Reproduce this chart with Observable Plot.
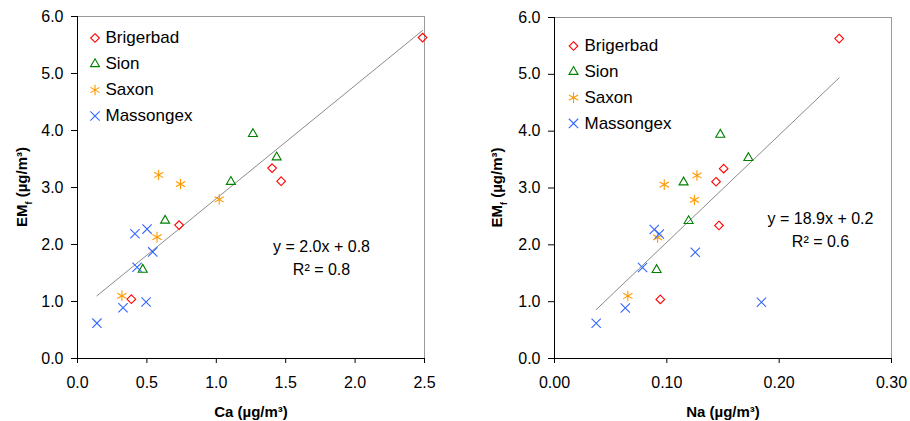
<!DOCTYPE html>
<html><head><meta charset="utf-8">
<script src="https://cdn.jsdelivr.net/npm/d3@7"></script>
<script src="https://cdn.jsdelivr.net/npm/@observablehq/plot@0.6"></script>
<style>
body{margin:0;background:#fff;}
#wrap{display:flex;width:910px;height:421px;}
#wrap svg{font-family:"Liberation Sans",Arial,sans-serif;display:block;}
</style></head><body><div id="wrap"></div>
<script>
// ---- data ----
const sites = ["Brigerbad","Sion","Saxon","Massongex"];
const emBrigerbad = [5.63, 3.34, 3.11, 2.34, 1.04];
const caBrigerbad = [2.486, 1.402, 1.467, 0.732, 0.388];
const naBrigerbad = [0.2534, 0.1506, 0.1438, 0.1464, 0.0942];
const emSion = [3.94, 3.53, 3.10, 2.42, 1.56];
const caSion = [1.264, 1.435, 1.105, 0.631, 0.470];
const naSion = [0.1476, 0.1726, 0.1149, 0.1194, 0.0909];
const emSaxon = [3.22, 3.06, 2.79, 2.13, 1.10];
const caSaxon = [0.585, 0.742, 1.021, 0.573, 0.320];
const naSaxon = [0.1268, 0.0977, 0.1245, 0.0918, 0.0653];
const emMassongex = [0.62, 0.89, 0.99, 1.60, 1.87, 2.19, 2.27];
const caMassongex = [0.140, 0.328, 0.494, 0.429, 0.542, 0.414, 0.501];
const naMassongex = [0.0371, 0.0630, 0.1842, 0.0784, 0.1253, 0.0933, 0.0888];
const yTicks = [0, 1, 2, 3, 4, 5, 6];
const caTicks = [0, 0.5, 1, 1.5, 2, 2.5];
const naTicks = [0, 0.1, 0.2, 0.3];
const eqCa = ["y = 2.0x + 0.8", "R² = 0.8"];
const eqNa = ["y = 18.9x + 0.2", "R² = 0.6"];

// ---- styles ----
const siteColors = ["#ff0000", "#008000", "#ff9900", "#3366ff"];
const siteSymbols = ["diamond2", "triangle2", "asterisk", "times"];
const siteR = [3.9, 4.3, 5, 4.3];

const siteData = {
  Brigerbad: [emBrigerbad, caBrigerbad, naBrigerbad],
  Sion: [emSion, caSion, naSion],
  Saxon: [emSaxon, caSaxon, naSaxon],
  Massongex: [emMassongex, caMassongex, naMassongex]
};
const rows = [];
for (const s of sites) {
  const [em, ca, na] = siteData[s];
  em.forEach((v, j) => rows.push({site: s, em: v, ca: ca[j], na: na[j]}));
}

function scatter(o) {
  const W = 455, H = 421;
  const marks = [
    Plot.ruleY([6], {stroke: "#9a9a9a"}),
    Plot.ruleX([o.xDomain[1]], {stroke: "#9a9a9a"}),
    Plot.axisY({ticks: yTicks, tickFormat: d3.format(".1f"), tickSize: 6, tickPadding: 8, fontSize: 16, label: null}),
    Plot.axisX({ticks: o.xTicks, tickFormat: d3.format(o.xFormat), tickSize: 5, tickPadding: 13, fontSize: 16, label: null}),
    Plot.ruleX([o.xDomain[0]], {stroke: "#000"}),
    Plot.ruleY([0], {stroke: "#000"}),
    Plot.linearRegressionY(rows, {x: o.xKey, y: "em", stroke: "#8a8a8a", strokeWidth: 1, ci: 0}),
  ];
  sites.forEach((s, i) => {
    marks.push(Plot.dot(rows.filter(d => d.site === s), {
      x: o.xKey, y: "em", symbol: siteSymbols[i], stroke: siteColors[i], r: siteR[i], strokeWidth: 1.1
    }));
    marks.push(Plot.dot([s], {
      frameAnchor: "top-left", dx: o.legX, dy: o.legY + i * o.legStep,
      symbol: siteSymbols[i], stroke: siteColors[i], r: siteR[i], strokeWidth: 1.1
    }));
    marks.push(Plot.text([s], {
      frameAnchor: "top-left", dx: o.legTX, dy: o.legY + i * o.legStep, lineAnchor: "middle",
      text: d => d, textAnchor: "start", fontSize: 17, fill: "#000"
    }));
  });
  o.eq.forEach((t, i) => {
    marks.push(Plot.text([t], {
      frameAnchor: "top-left", dx: o.eqX, dy: o.eqY + i * o.eqStep, lineAnchor: "middle",
      text: d => d, textAnchor: "middle", fontSize: 16, fill: "#000"
    }));
  });
  marks.push(Plot.text([o.xLabel], {
    frameAnchor: "bottom", dy: 54, lineAnchor: "middle", text: d => d, fontSize: 15, fontWeight: "bold", fill: "#000"
  }));
  const svg = Plot.plot({
    width: W, height: H,
    marginLeft: o.ml, marginRight: o.mr, marginTop: o.mt, marginBottom: o.mb,
    x: {domain: o.xDomain},
    y: {domain: [0, 6]},
    style: {fontFamily: "Liberation Sans, Arial, sans-serif", fontSize: "16px", color: "#000", background: "#fff"},
    marks
  });
  const cy = (o.mt + H - o.mb) / 2;
  const t = d3.select(svg).append("text")
    .attr("transform", `translate(${o.ylX},${cy}) rotate(-90)`)
    .attr("text-anchor", "middle").attr("dy", "0.35em")
    .attr("font-weight", "bold").attr("font-size", 15).attr("fill", "#000");
  t.append("tspan").text("EM");
  t.append("tspan").attr("font-size", 9).attr("baseline-shift", "sub").text("f");
  t.append("tspan").text(" (µg/m³)");
  return svg;
}

const wrap = document.getElementById("wrap");
wrap.appendChild(scatter({
  xKey: "ca", xDomain: [0, 2.5], xTicks: caTicks, xFormat: ".1f", xLabel: "Ca (µg/m³)",
  ml: 77, mr: 31, mt: 16, mb: 63,
  legX: 17.5, legTX: 28, legY: 21.5, legStep: 26,
  eq: eqCa, eqX: 244, eqY: 230, eqStep: 23.5, ylX: 22
}));
wrap.appendChild(scatter({
  xKey: "na", xDomain: [0, 0.3], xTicks: naTicks, xFormat: ".2f", xLabel: "Na (µg/m³)",
  ml: 99, mr: 19, mt: 17, mb: 63,
  legX: 19, legTX: 30, legY: 28.5, legStep: 25.8,
  eq: eqNa, eqX: 266, eqY: 201, eqStep: 23.5, ylX: 42
}));
</script></body></html>
